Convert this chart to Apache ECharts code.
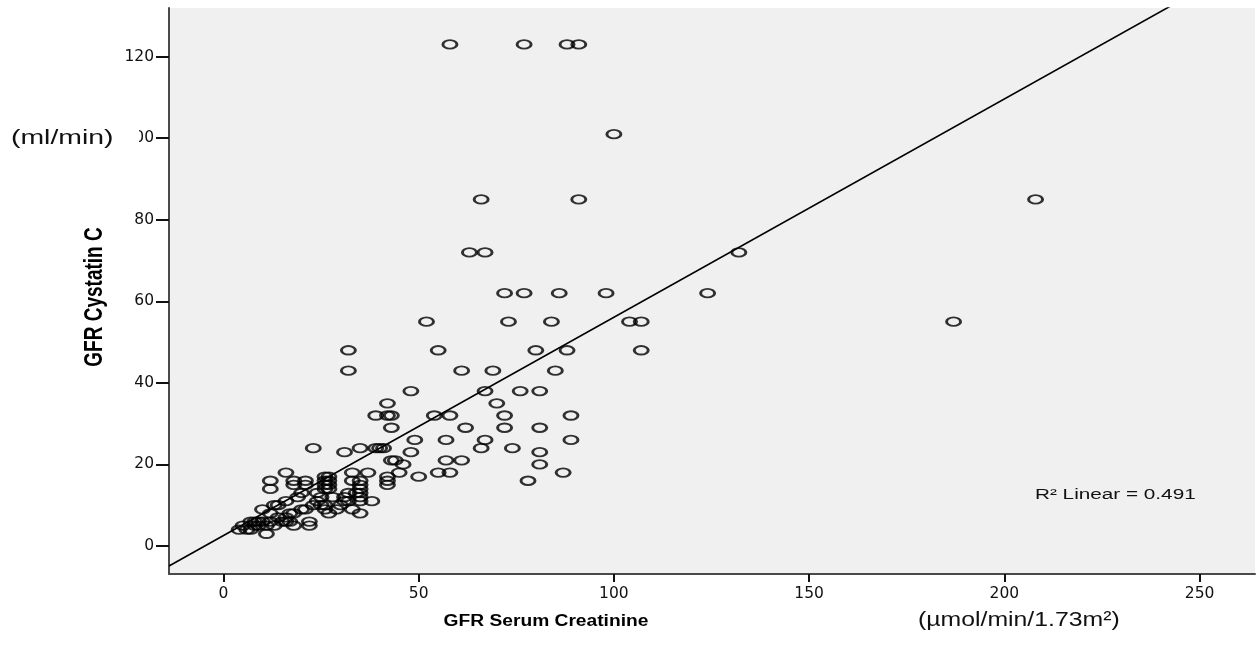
<!DOCTYPE html>
<html>
<head>
<meta charset="utf-8">
<title>GFR Cystatin C vs GFR Serum Creatinine</title>
<script src="https://cdn.jsdelivr.net/npm/echarts@6/dist/echarts.min.js"></script>
<style>
  html, body { margin: 0; padding: 0; background: #ffffff; }
  #chart { width: 1258px; height: 645px; }
</style>
</head>
<body>
<div id="chart"></div>
<script>
// GFR estimated from serum creatinine (x) and from cystatin C (y), one entry per patient
const serumCreatinine = [
  58, 77, 88, 91,
  100,
  66, 91, 208,
  63, 67, 132,
  72, 77, 86, 98, 124,
  52, 73, 84, 104, 107, 187,
  32, 55, 80, 88, 107,
  32, 61, 69, 85,
  48, 67, 76, 81,
  42, 70,
  39, 42, 43, 54, 58, 72, 89,
  43, 62, 72, 81,
  49, 57, 67, 89,
  23, 35, 39, 40, 41, 66, 74,
  31, 48, 81,
  43, 44, 57, 61,
  46, 81,
  16, 33, 37, 45, 55, 58, 87,
  50, 42, 26, 27,
  78, 12, 18, 21, 26, 27, 33, 35, 42,
  18, 21, 26, 27, 35, 42,
  12, 26, 27, 35,
  20, 24, 32, 34, 35,
  19, 25, 28, 35, 31,
  16, 24, 31, 35, 38, 32,
  14, 13, 23, 25, 30, 26,
  10, 20, 21, 26, 29, 33,
  12, 17, 18, 27, 35,
  14, 16,
  9, 10, 12, 15, 16, 17, 22, 7, 8,
  5, 8, 9, 11, 13, 18, 22,
  4, 6, 7,
  11
];
const cystatinC = [
  123, 123, 123, 123,
  101,
  85, 85, 85,
  72, 72, 72,
  62, 62, 62, 62, 62,
  55, 55, 55, 55, 55, 55,
  48, 48, 48, 48, 48,
  43, 43, 43, 43,
  38, 38, 38, 38,
  35, 35,
  32, 32, 32, 32, 32, 32, 32,
  29, 29, 29, 29,
  26, 26, 26, 26,
  24, 24, 24, 24, 24, 24, 24,
  23, 23, 23,
  21, 21, 21, 21,
  20, 20,
  18, 18, 18, 18, 18, 18, 18,
  17, 17, 17, 17,
  16, 16, 16, 16, 16, 16, 16, 16, 16,
  15, 15, 15, 15, 15, 15,
  14, 14, 14, 14,
  13, 13, 13, 13, 13,
  12, 12, 12, 12, 12,
  11, 11, 11, 11, 11, 11,
  10, 10, 10, 10, 10, 10,
  9, 9, 9, 9, 9, 9,
  8, 8, 8, 8, 8,
  7, 7,
  6, 6, 6, 6, 6, 6, 6, 6, 6,
  5, 5, 5, 5, 5, 5, 5,
  4, 4, 4,
  3
];

// Axis ticks
const xTicks = [0, 50, 100, 150, 200, 250];
const yTicks = [0, 20, 40, 60, 80, 100, 120];

// Least-squares fit line (R² Linear)
const fitIntercept = 2.57;
const fitSlope = 0.5353;
const fitR2 = 0.491;

const xMin = -13.95, xMax = 264.2;
const yMin = -6.87, yMax = 131.94;

const points = serumCreatinine.map((x, i) => [x, cystatinC[i]]);
const fitLine = [xMin, xMax].map(x => [x, fitIntercept + fitSlope * x]);

const chart = echarts.init(document.getElementById('chart'), null, { renderer: 'canvas' });

const tickFont = { fontFamily: '"DejaVu Sans", sans-serif', fontSize: 15.5, color: '#111' };

chart.setOption({
  animation: false,
  backgroundColor: '#ffffff',
  grid: {
    left: 169, right: 3, top: 8, bottom: 71,
    show: true, backgroundColor: '#f0f0f0', borderWidth: 0
  },
  xAxis: {
    type: 'value',
    min: xMin, max: xMax,
    axisLine: { show: true, onZero: false, lineStyle: { color: '#4a4a4a', width: 2 } },
    axisTick: { show: true, length: 8, customValues: xTicks, lineStyle: { color: '#111', width: 2 } },
    axisLabel: { ...tickFont, margin: 12, customValues: xTicks },
    splitLine: { show: false }
  },
  yAxis: {
    type: 'value',
    min: yMin, max: yMax,
    axisLine: { show: true, onZero: false, lineStyle: { color: '#4a4a4a', width: 2 } },
    axisTick: { show: true, length: 13, customValues: yTicks, lineStyle: { color: '#111', width: 2 } },
    axisLabel: { ...tickFont, margin: 15, customValues: yTicks },
    splitLine: { show: false }
  },
  series: [
    {
      type: 'scatter',
      data: points,
      symbol: 'circle',
      symbolSize: [14, 8.5],
      itemStyle: { color: 'transparent', borderColor: '#000', borderWidth: 2.3 },
      emphasis: { disabled: true },
      z: 3
    },
    {
      type: 'line',
      data: fitLine,
      symbol: 'none',
      clip: true,
      lineStyle: { color: '#000', width: 1.6 },
      emphasis: { disabled: true },
      z: 4
    }
  ],
  graphic: [
    {
      type: 'rect', z: 100,
      shape: { x: 0, y: 124, width: 139, height: 28 },
      style: { fill: '#ffffff' }
    },
    {
      type: 'text', z: 101, x: 11, y: 138, scaleX: 1.42,
      style: {
        text: '(ml/min)', font: '20px "Liberation Sans", sans-serif', fill: '#111',
        align: 'left', verticalAlign: 'middle', textAlign: 'left', textVerticalAlign: 'middle'
      }
    },
    {
      type: 'text', z: 101, x: 95, y: 297, rotation: Math.PI / 2, scaleY: 1.4,
      style: {
        text: 'GFR Cystatin C', font: 'bold 19px "Liberation Sans", sans-serif', fill: '#000',
        align: 'center', verticalAlign: 'middle', textAlign: 'center', textVerticalAlign: 'middle'
      }
    },
    {
      type: 'text', z: 101, x: 546, y: 622, scaleX: 1.2,
      style: {
        text: 'GFR Serum Creatinine', font: 'bold 16px "Liberation Sans", sans-serif', fill: '#000',
        align: 'center', verticalAlign: 'middle', textAlign: 'center', textVerticalAlign: 'middle'
      }
    },
    {
      type: 'text', z: 101, x: 918, y: 620, scaleX: 1.24,
      style: {
        text: '(µmol/min/1.73m²)', font: '20px "Liberation Sans", sans-serif', fill: '#111',
        align: 'left', verticalAlign: 'middle', textAlign: 'left', textVerticalAlign: 'middle'
      }
    },
    {
      type: 'text', z: 101, x: 1035, y: 495, scaleX: 1.48,
      style: {
        text: 'R² Linear = ' + fitR2.toFixed(3), font: '14px "Liberation Sans", sans-serif', fill: '#111',
        align: 'left', verticalAlign: 'middle', textAlign: 'left', textVerticalAlign: 'middle'
      }
    }
  ]
});
</script>
</body>
</html>
